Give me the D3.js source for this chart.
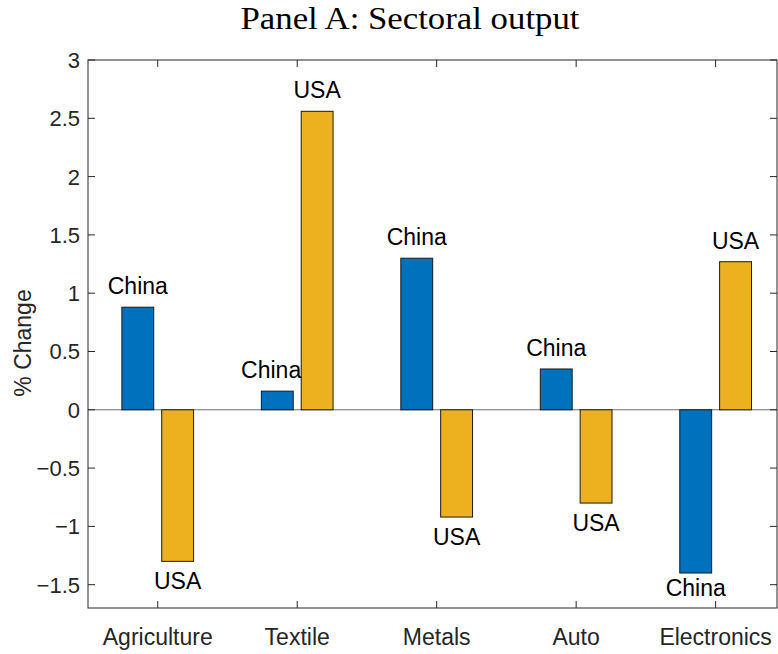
<!DOCTYPE html>
<html><head><meta charset="utf-8">
<script src="https://cdn.jsdelivr.net/npm/d3@7"></script>
<style>body{margin:0;background:#fff;} svg{display:block;}</style>
</head><body>
<svg id="chart" width="778" height="654"></svg>
<script>
const categories = ["Agriculture","Textile","Metals","Auto","Electronics"];
const seriesNames = ["China","USA"];
const chinaValues = [0.88, 0.16, 1.30, 0.35, -1.40];
const usaValues = [-1.30, 2.56, -0.92, -0.80, 1.27];
const yTicks = [-1.5,-1,-0.5,0,0.5,1,1.5,2,2.5,3];
const colors = ["#0072BD","#EDB120"];

const svg = d3.select("#chart");
const L=88, R=777, T=60, B=608;
const x = d3.scaleLinear().domain([0.5, 5.44]).range([L, R]);
const y = d3.scaleLinear().domain([-1.7, 3]).range([B, T]);
const font = "'Liberation Sans', Arial, Helvetica, sans-serif";
const axisColor = "#262626";

const groupWidth = Math.min(0.8, 2/(2+1.5));
const barW = groupWidth/2*0.8;
const offsets = [-groupWidth/4, groupWidth/4];
const series = [chinaValues, usaValues];

// baseline
svg.append("line").attr("x1",L).attr("x2",R).attr("y1",y(0)).attr("y2",y(0))
  .attr("stroke","#6e6e6e").attr("stroke-width",1);

// bars
series.forEach((vals, s) => {
  svg.append("g").selectAll("rect").data(vals).join("rect")
    .attr("x",(d,i)=>x(i+1+offsets[s]-barW/2))
    .attr("width",x(1+barW)-x(1))
    .attr("y",d=>y(Math.max(0,d)))
    .attr("height",d=>Math.abs(y(d)-y(0)))
    .attr("fill",colors[s]).attr("stroke","#1a1a1a").attr("stroke-width",1);
});

// labels
series.forEach((vals, s) => {
  vals.forEach((v,i) => {
    const cx = x(i+1+offsets[s]);
    const ly = v>=0 ? y(v)-13 : Math.min(y(v)+28, B-12);
    const t = svg.append("text").text(seriesNames[s])
      .attr("x",cx).attr("y", ly)
      .attr("text-anchor","middle").attr("font-family",font).attr("font-size",23)
      .attr("fill","#000");
    if (s===0 && v>=0) {
      const other = series[1][i];
      const edge = x(i+1+offsets[1]-barW/2);
      const w = t.node().getComputedTextLength();
      if (other > v && cx + w/2 > edge) {
        t.attr("text-anchor","end").attr("x", edge);
      }
    }
  });
});

// axes box
svg.append("rect").attr("x",L).attr("y",T).attr("width",R-L).attr("height",B-T)
  .attr("fill","none").attr("stroke",axisColor).attr("stroke-width",1);

// y ticks
const tl = 7;
yTicks.forEach(v => {
  svg.append("line").attr("x1",L).attr("x2",L+tl).attr("y1",y(v)).attr("y2",y(v)).attr("stroke",axisColor);
  svg.append("line").attr("x1",R).attr("x2",R-tl).attr("y1",y(v)).attr("y2",y(v)).attr("stroke",axisColor);
  svg.append("text").text(String(v).replace("-","\u2212"))
    .attr("x",L-8).attr("y",y(v)+8).attr("text-anchor","end")
    .attr("font-family",font).attr("font-size",22).attr("fill",axisColor);
});
// x ticks
categories.forEach((c,i) => {
  svg.append("line").attr("x1",x(i+1)).attr("x2",x(i+1)).attr("y1",B).attr("y2",B-tl).attr("stroke",axisColor);
  svg.append("line").attr("x1",x(i+1)).attr("x2",x(i+1)).attr("y1",T).attr("y2",T+tl).attr("stroke",axisColor);
  svg.append("text").text(c).attr("x",x(i+1)).attr("y",645).attr("text-anchor","middle")
    .attr("font-family",font).attr("font-size",23).attr("fill",axisColor);
});

// y label
svg.append("text").text("% Change")
  .attr("transform","translate(31,343) rotate(-90)").attr("text-anchor","middle")
  .attr("font-family",font).attr("font-size",23).attr("fill",axisColor);

// title
svg.append("text").text("Panel A: Sectoral output")
  .attr("x",410).attr("y",29).attr("text-anchor","middle")
  .attr("font-family","'Liberation Serif','Times New Roman',serif").attr("font-size",31)
  .attr("textLength",339).attr("lengthAdjust","spacingAndGlyphs")
  .attr("fill","#000");
</script>
</body></html>
